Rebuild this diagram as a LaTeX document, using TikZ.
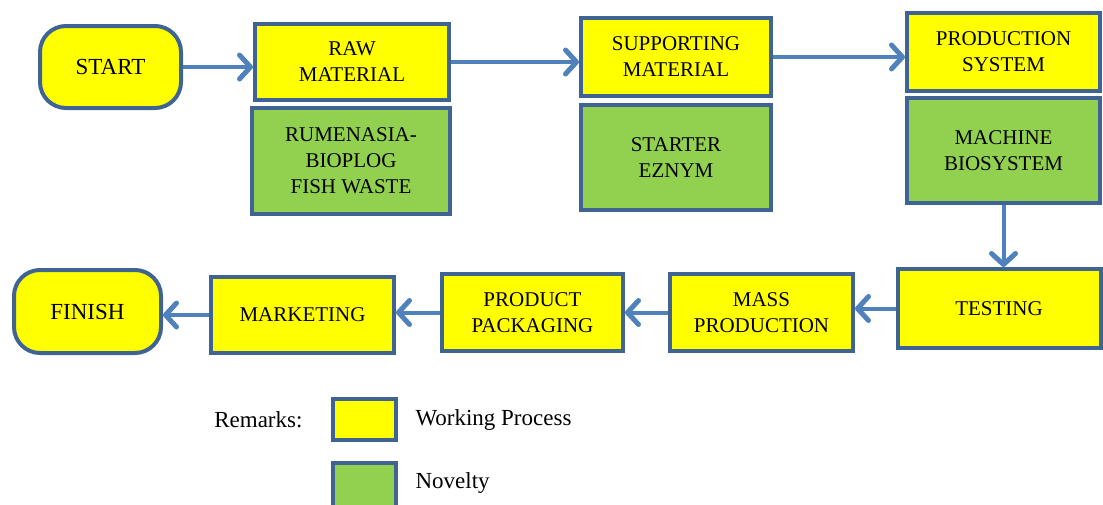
\documentclass[tikz,border=0pt]{standalone}
\usepackage{fontspec}
\setmainfont{Liberation Serif}
\usetikzlibrary{arrows.meta}
\definecolor{edgeblue}{RGB}{63,100,148}
\definecolor{arrowblue}{RGB}{79,129,189}
\definecolor{workyellow}{RGB}{255,255,0}
\definecolor{novgreen}{RGB}{146,208,80}

\begin{document}
\begin{tikzpicture}[x=1pt, y=-1pt,
	procbox/.style={draw=edgeblue, line width=4pt, fill=workyellow, align=center, inner sep=0pt, font=\fontsize{21}{26}\selectfont},
	novbox/.style={procbox, fill=novgreen},
	endbox/.style={procbox, rounded corners=26pt, font=\fontsize{23}{26}\selectfont},
	flow/.style={draw=arrowblue, line width=4pt, arrows={-Straight Barb[length=11pt,width=24pt,line width=5pt,round]}}]
	\useasboundingbox (0,0) rectangle (1103,504);
	\node[endbox, minimum width=141pt, minimum height=82pt] (start) at (110.5,67) {START};
	\node[procbox, minimum width=194pt, minimum height=76pt] (raw) at (352,62) {RAW\\MATERIAL};
	\node[novbox, minimum width=198pt, minimum height=106pt] (fish) at (351,161) {RUMENASIA-\\BIOPLOG\\FISH WASTE};
	\node[procbox, minimum width=190pt, minimum height=78pt] (support) at (676,57) {SUPPORTING\\MATERIAL};
	\node[novbox, minimum width=190pt, minimum height=105pt] (enzyme) at (676,157.5) {STARTER\\EZNYM};
	\node[procbox, minimum width=193pt, minimum height=78pt] (prodsys) at (1003.5,52) {PRODUCTION\\SYSTEM};
	\node[novbox, minimum width=193pt, minimum height=105pt] (machine) at (1003.5,150.5) {MACHINE\\BIOSYSTEM};
	\node[procbox, minimum width=203pt, minimum height=79pt] (testing) at (999,308.5) {TESTING};
	\node[procbox, minimum width=183pt, minimum height=77pt] (mass) at (761.5,312.5) {MASS\\PRODUCTION};
	\node[procbox, minimum width=181pt, minimum height=77pt] (packaging) at (532.5,312.5) {PRODUCT\\PACKAGING};
	\node[procbox, minimum width=183pt, minimum height=76pt] (marketing) at (302.5,315) {MARKETING};
	\node[endbox, minimum width=147pt, minimum height=83pt] (finish) at (87.5,311.5) {FINISH};
	\draw[flow] (start.east) -- (start.east -| raw.west);
	\draw[flow] (raw.east) -- (raw.east -| support.west);
	\draw[flow] (support.east) -- (support.east -| prodsys.west);
	\draw[flow] (machine.south) -- (machine.south |- testing.north);
	\draw[flow] (testing.west) -- (testing.west -| mass.east);
	\draw[flow] (mass.west) -- (mass.west -| packaging.east);
	\draw[flow] (packaging.west) -- (packaging.west -| marketing.east);
	\draw[flow] (marketing.west) -- (marketing.west -| finish.east);
	\node[procbox, minimum width=63pt, minimum height=41pt] (keywork) at (364.5,419.5) {};
	\node[novbox, minimum width=63pt, minimum height=44pt] (keynov) at (364.5,485) {};
	\node[anchor=east, font=\fontsize{23}{26}\selectfont] (remarks) at (306,420) {Remarks:};
	\node[anchor=west, font=\fontsize{23}{26}\selectfont] (worklabel) at (412,420) {Working Process};
	\node[anchor=west, font=\fontsize{23}{26}\selectfont] (novlabel) at (412,483) {Novelty};
\end{tikzpicture}
\end{document}
